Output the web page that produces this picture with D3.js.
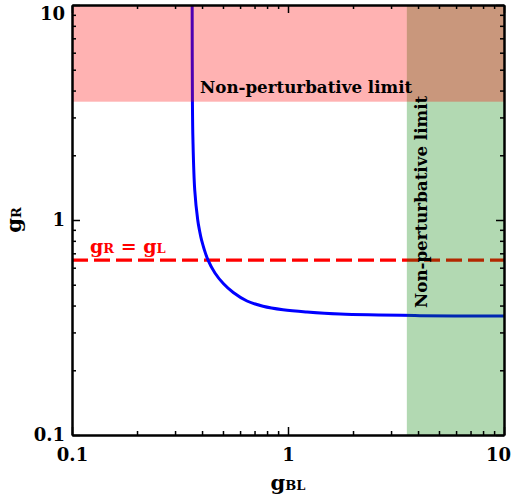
<!DOCTYPE html>
<html>
<head>
<meta charset="utf-8">
<script src="https://cdn.jsdelivr.net/npm/d3@7"></script>
<style>
  html, body { margin: 0; padding: 0; background: #fff; }
  svg { display: block; font-family: "DejaVu Serif", serif; font-weight: bold; }
</style>
</head>
<body>
<div id="chart"></div>
<script>
// values
var majorTicks = [0.1, 1, 10];
var tickLabels = ['0.1', '1', '10'];
var limit = 3.55;          // non-perturbative bound (sqrt(4 pi))
var gL = 0.65;             // g_R = g_L line
var curveGBL = [0.360, 0.361, 0.363, 0.370, 0.382, 0.389, 0.398, 0.426, 0.459, 0.503, 0.558, 0.646, 0.766, 0.948, 1.224, 1.741, 4.08, 10];
var curveGR  = [10, 3.58, 2.36, 1.379, 1.0, 0.898, 0.807, 0.652, 0.567, 0.505, 0.460, 0.420, 0.397, 0.3823, 0.373, 0.365, 0.3591, 0.3573];

var W = 512, H = 504;
var margin = { top: 5, right: 8, bottom: 69, left: 72 };

var x = d3.scaleLog().domain([0.1, 10]).range([margin.left, W - margin.right]);
var y = d3.scaleLog().domain([0.1, 10]).range([H - margin.bottom, margin.top]);

var minorTicks = [];
[0.1, 1].forEach(function (dec) {
  for (var k = 2; k <= 9; k++) minorTicks.push(+(dec * k).toFixed(3));
});

var svg = d3.select('#chart').append('svg')
  .attr('width', W).attr('height', H);

svg.append('defs').append('clipPath').attr('id', 'plot')
  .append('rect')
  .attr('x', x(0.1)).attr('y', y(10))
  .attr('width', x(10) - x(0.1)).attr('height', y(0.1) - y(10));

var g = svg.append('g').attr('clip-path', 'url(#plot)');

// g_R = g_L dashed line
g.append('line')
  .attr('x1', x(0.1)).attr('x2', x(10))
  .attr('y1', y(gL)).attr('y2', y(gL))
  .attr('stroke', '#ff0000').attr('stroke-width', 3.2)
  .attr('stroke-dasharray', '16,6');

// curve
var pts = curveGBL.map(function (v, i) { return [v, curveGR[i]]; });
g.append('path')
  .datum(pts)
  .attr('fill', 'none')
  .attr('stroke', '#0000ff')
  .attr('stroke-width', 3)
  .attr('d', d3.line()
    .x(function (d) { return x(d[0]); })
    .y(function (d) { return y(d[1]); })
    .curve(d3.curveCatmullRom.alpha(0.5)));

// labels (under the shaded bands)
var lbl = svg.append('text')
  .attr('x', 90).attr('y', 253)
  .attr('fill', '#ff0000').attr('font-size', 19);
lbl.append('tspan').text('g');
lbl.append('tspan').attr('font-size', 13).text('R');
lbl.append('tspan').text(' = g');
lbl.append('tspan').attr('font-size', 13).text('L');

svg.append('text')
  .attr('x', 200).attr('y', 93)
  .attr('font-size', 16.7).attr('fill', '#000')
  .text('Non-perturbative limit');

svg.append('text')
  .attr('transform', 'translate(427,308) rotate(-90)')
  .attr('font-size', 16.7).attr('fill', '#000')
  .text('Non-perturbative limit');

// shaded bands
g.append('rect')
  .attr('x', x(limit)).attr('y', y(10))
  .attr('width', x(10) - x(limit)).attr('height', y(0.1) - y(10))
  .attr('fill', '#008000').attr('fill-opacity', 0.3);
g.append('rect')
  .attr('x', x(0.1)).attr('y', y(10))
  .attr('width', x(10) - x(0.1)).attr('height', y(limit) - y(10))
  .attr('fill', '#ff0000').attr('fill-opacity', 0.3);

// axes, ticks pointing inward on all four sides
function styleAxis(sel) {
  sel.selectAll('.domain').attr('stroke', '#000').attr('stroke-width', 2);
  sel.selectAll('.tick line').attr('stroke', '#000').attr('stroke-width', 1.5);
  sel.selectAll('text').attr('font-family', '"DejaVu Serif", serif')
    .attr('font-weight', 'bold').attr('font-size', 18).attr('fill', '#000');
}
function fmt(d) { return tickLabels[majorTicks.indexOf(d)]; }

var axBottom = svg.append('g').attr('transform', 'translate(0,' + y(0.1) + ')');
axBottom.append('g').call(d3.axisBottom(x).tickValues(majorTicks).tickFormat(fmt)
  .tickSize(-8).tickSizeOuter(0).tickPadding(13)).call(styleAxis);
axBottom.append('g').call(d3.axisBottom(x).tickValues(minorTicks).tickFormat('')
  .tickSize(-4).tickSizeOuter(0)).call(styleAxis);
axBottom.selectAll('.tick text').filter(function (d) { return d === 10; })
  .attr('dx', -6);

var axTop = svg.append('g').attr('transform', 'translate(0,' + y(10) + ')');
axTop.append('g').call(d3.axisTop(x).tickValues(majorTicks).tickFormat('')
  .tickSize(-8).tickSizeOuter(0)).call(styleAxis);
axTop.append('g').call(d3.axisTop(x).tickValues(minorTicks).tickFormat('')
  .tickSize(-4).tickSizeOuter(0)).call(styleAxis);

var axLeft = svg.append('g').attr('transform', 'translate(' + x(0.1) + ',0)');
axLeft.append('g').call(d3.axisLeft(y).tickValues(majorTicks).tickFormat(fmt)
  .tickSize(-8).tickSizeOuter(0).tickPadding(7)).call(styleAxis);
axLeft.append('g').call(d3.axisLeft(y).tickValues(minorTicks).tickFormat('')
  .tickSize(-4).tickSizeOuter(0)).call(styleAxis);
// top label sits just below its tick so it stays on the page
axLeft.selectAll('.tick text').filter(function (d) { return d === 10; })
  .attr('dy', '0.8em');

var axRight = svg.append('g').attr('transform', 'translate(' + x(10) + ',0)');
axRight.append('g').call(d3.axisRight(y).tickValues(majorTicks).tickFormat('')
  .tickSize(-8).tickSizeOuter(0)).call(styleAxis);
axRight.append('g').call(d3.axisRight(y).tickValues(minorTicks).tickFormat('')
  .tickSize(-4).tickSizeOuter(0)).call(styleAxis);

// axis titles
var xt = svg.append('text')
  .attr('x', x(1)).attr('y', 490)
  .attr('text-anchor', 'middle').attr('font-size', 21);
xt.append('tspan').text('g');
xt.append('tspan').attr('font-size', 13).text('BL');

var yt = svg.append('text')
  .attr('transform', 'translate(21,' + y(1) + ') rotate(-90)')
  .attr('text-anchor', 'middle').attr('font-size', 21);
yt.append('tspan').text('g');
yt.append('tspan').attr('font-size', 13).text('R');
</script>
</body>
</html>
